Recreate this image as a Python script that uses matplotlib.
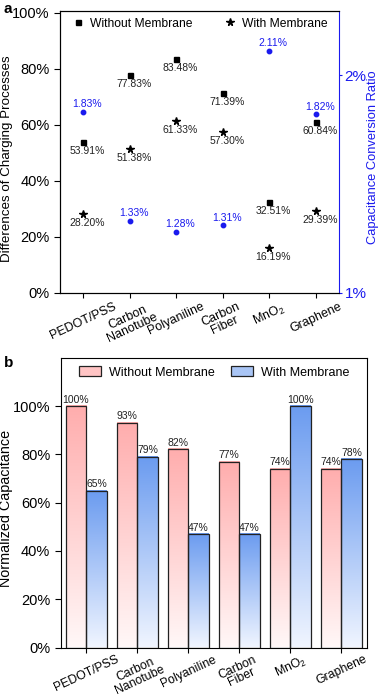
import matplotlib
matplotlib.use('Agg')
import matplotlib.pyplot as plt
import numpy as np
from matplotlib.patches import Rectangle, Patch
from matplotlib.lines import Line2D

plt.rcParams['font.family'] = ['Liberation Sans', 'DejaVu Sans']
plt.rcParams['mathtext.default'] = 'regular'

# data
materials = ['PEDOT/PSS', 'Carbon\nNanotube', 'Polyaniline', 'Carbon\nFiber', 'MnO$_2$', 'Graphene']
diff_without = [53.91, 77.83, 83.48, 71.39, 32.51, 60.84]
diff_with = [28.20, 51.38, 61.33, 57.30, 16.19, 29.39]
conv_ratio = [1.83, 1.33, 1.28, 1.31, 2.11, 1.82]

norm_without = [100, 93, 82, 77, 74, 74]
norm_with = [65, 79, 47, 47, 100, 78]

BLUE = '#1a1aee'
W, H = 380, 696

fig = plt.figure(figsize=(3.8, 6.96), dpi=100)

# ---------------- panel a ----------------
ax1 = fig.add_axes([60/W, 1-293/H, (339-60)/W, (293-11)/H])
ax2 = ax1.twinx()
x = np.arange(len(materials))

ax1.plot(x, diff_without, 's', color='black', ms=3.6, ls='none')
ax1.plot(x, diff_with, '*', color='black', ms=5.5, ls='none')
ax2.plot(x, conv_ratio, 'o', color=BLUE, ms=3.2, ls='none')

for i in x:
    ax1.annotate('%.2f%%' % diff_without[i], (i, diff_without[i]), xytext=(3, -6.5),
                 textcoords='offset points', ha='center', va='center', fontsize=7.5, color='#222222')
    ax1.annotate('%.2f%%' % diff_with[i], (i, diff_with[i]), xytext=(3, -6.5),
                 textcoords='offset points', ha='center', va='center', fontsize=7.5, color='#222222')
    ax2.annotate('%.2f%%' % conv_ratio[i], (i, conv_ratio[i]), xytext=(3, 5.5),
                 textcoords='offset points', ha='center', va='center', fontsize=7.5, color=BLUE)

ax1.set_xlim(-0.5, 5.5)
ax1.set_ylim(0, 100.6)
ax2.set_ylim(1, 2.294)
ax1.set_yticks([0, 20, 40, 60, 80, 100])
ax1.set_yticklabels(['0%', '20%', '40%', '60%', '80%', '100%'], fontsize=10.5)
ax1.set_xticks(x)
ax1.set_xticklabels(materials, rotation=25, ha='center', fontsize=9, linespacing=0.95)
ax1.tick_params(direction='out', length=4, width=0.8)
ax1.tick_params(axis='x', length=3.5, pad=2)
ax1.set_ylabel('Differences of Charging Processes', fontsize=9.6)
ax1.yaxis.set_label_coords(-0.168, 0.475)

ax2.set_yticks([1, 2])
ax2.set_yticklabels(['1%', '2%'], fontsize=11, color=BLUE)
ax2.tick_params(axis='y', colors=BLUE, direction='out', length=2.5, width=0.8, pad=1.5)
ax2.spines['right'].set_color(BLUE)
ax1.spines['right'].set_visible(False)
ax2.set_ylabel('Capacitance Conversion Ratio', fontsize=9.3, color=BLUE)
ax2.yaxis.set_label_coords(1.10, 0.48)

handles_a = [Line2D([], [], marker='s', color='black', ls='none', ms=3.6),
             Line2D([], [], marker='*', color='black', ls='none', ms=5.5)]
ax1.legend(handles_a, ['Without Membrane', 'With Membrane'], loc='upper center', ncol=2,
           frameon=False, fontsize=8.7, handlelength=1.0, handletextpad=0.5, columnspacing=2.6,
           bbox_to_anchor=(0.5, 1.015))

fig.text(4/W, 1-9/H, 'a', fontsize=11, fontweight='bold', va='center')

# ---------------- panel b ----------------
ax3 = fig.add_axes([60.7/W, 1-647.5/H, (367-60.7)/W, (647.5-357.7)/H])
bw = 0.4

pink_top = np.array([1.0, 0.68, 0.68])
pink_bot = np.array([1.0, 0.97, 0.97])
blue_top = np.array([0.42, 0.61, 0.94])
blue_bot = np.array([0.94, 0.96, 1.0])


def grad_bar(ax, x0, h, c_top, c_bot):
    t = np.linspace(0, 1, 100)[:, None]
    img = c_top[None, :] * (1 - t) + c_bot[None, :] * t
    img = img[:, None, :]
    ax.imshow(img, extent=[x0, x0 + bw, 0, h], aspect='auto', origin='upper', zorder=2)
    ax.add_patch(Rectangle((x0, 0), bw, h, fill=False, edgecolor='#222222', lw=0.9, zorder=3))


for i in x:
    grad_bar(ax3, i - bw, norm_without[i], pink_top, pink_bot)
    grad_bar(ax3, i, norm_with[i], blue_top, blue_bot)
    ax3.text(i - bw/2, norm_without[i] + 0.6, '%d%%' % norm_without[i], ha='center', va='bottom',
             fontsize=7.5, color='#222222')
    ax3.text(i + bw/2, norm_with[i] + 0.6, '%d%%' % norm_with[i], ha='center', va='bottom',
             fontsize=7.5, color='#222222')

ax3.set_xlim(-0.5, 5.5)
ax3.set_ylim(0, 120)
ax3.set_yticks([0, 20, 40, 60, 80, 100])
ax3.set_yticklabels(['0%', '20%', '40%', '60%', '80%', '100%'], fontsize=10.5)
ax3.set_xticks(x)
ax3.set_xticklabels(materials, rotation=25, ha='center', fontsize=8.8, linespacing=0.88)
ax3.tick_params(direction='out', length=4, width=0.8)
ax3.tick_params(axis='x', length=3.5, pad=0.8)
ax3.set_ylabel('Normalized Capacitance', fontsize=10.4)
ax3.yaxis.set_label_coords(-0.156, 0.481)

handles_b = [Patch(facecolor='#ffc4c4', edgecolor='#222222', lw=0.9),
             Patch(facecolor='#a9c5f5', edgecolor='#222222', lw=0.9)]
ax3.legend(handles_b, ['Without Membrane', 'With Membrane'], loc='upper center', ncol=2,
           frameon=False, fontsize=9, handlelength=1.8, handleheight=0.9, handletextpad=0.6,
           columnspacing=1.3, bbox_to_anchor=(0.5, 1.01))

fig.text(4/W, 1-363/H, 'b', fontsize=11, fontweight='bold', va='center')

fig.savefig('out.png', dpi=100)
